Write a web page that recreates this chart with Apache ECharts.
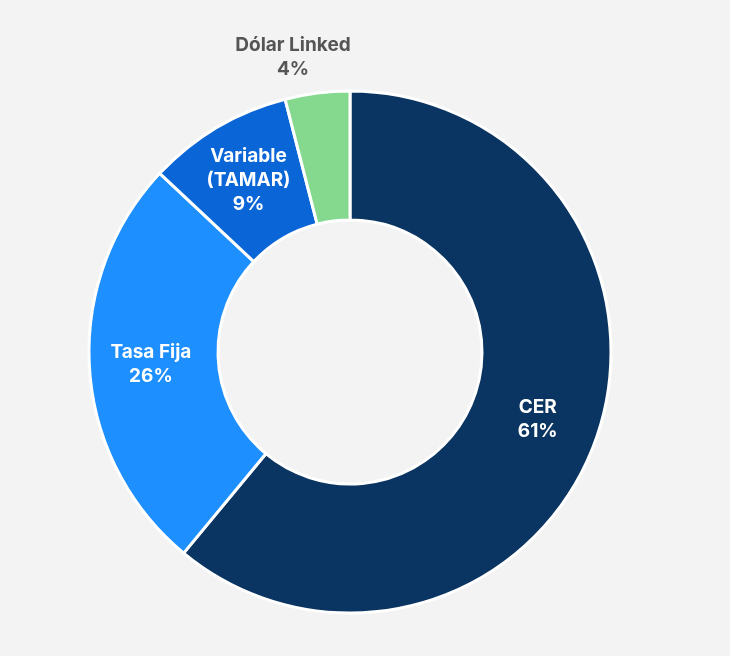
<!DOCTYPE html>
<html>
<head>
<meta charset="UTF-8">
<script src="https://cdn.jsdelivr.net/npm/echarts@6/dist/echarts.min.js"></script>
<style>
html,body{margin:0;padding:0;background:#f3f3f3;}
#chart{width:730px;height:656px;}
</style>
</head>
<body>
<div id="chart"></div>
<script>
var categories = ['CER', 'Tasa Fija', 'Variable\n(TAMAR)', 'Dólar Linked'];
var values = [61, 26, 9, 4];
var colors = ['#0a3461', '#1e8fff', '#0a66d6', '#84d98f'];

var data = [];
for (var i = 0; i < categories.length; i++) {
  data.push({ name: categories[i], value: values[i], itemStyle: { color: colors[i] } });
}
// Dólar Linked label sits outside, above the slice
data[3].label = { position: 'outside', color: '#555555' };
data[3].labelLine = { show: false };

var chart = echarts.init(document.getElementById('chart'));
chart.setOption({
  backgroundColor: '#f3f3f3',
  animation: false,
  series: [{
    type: 'pie',
    center: [350, 352],
    radius: [132, 261],
    startAngle: 90,
    clockwise: true,
    itemStyle: { borderColor: '#ffffff', borderWidth: 3 },
    label: {
      show: true,
      position: 'inside',
      formatter: function (p) { return p.name + '\n' + p.value + '%'; },
      color: '#ffffff',
      fontFamily: 'Inter',
      fontWeight: 'bold',
      fontSize: 19,
      lineHeight: 24
    },
    labelLayout: function (p) {
      if (p.dataIndex === 3) return { x: 293, y: 57, align: 'center', verticalAlign: 'middle' };
    },
    data: data
  }]
});
</script>
</body>
</html>
